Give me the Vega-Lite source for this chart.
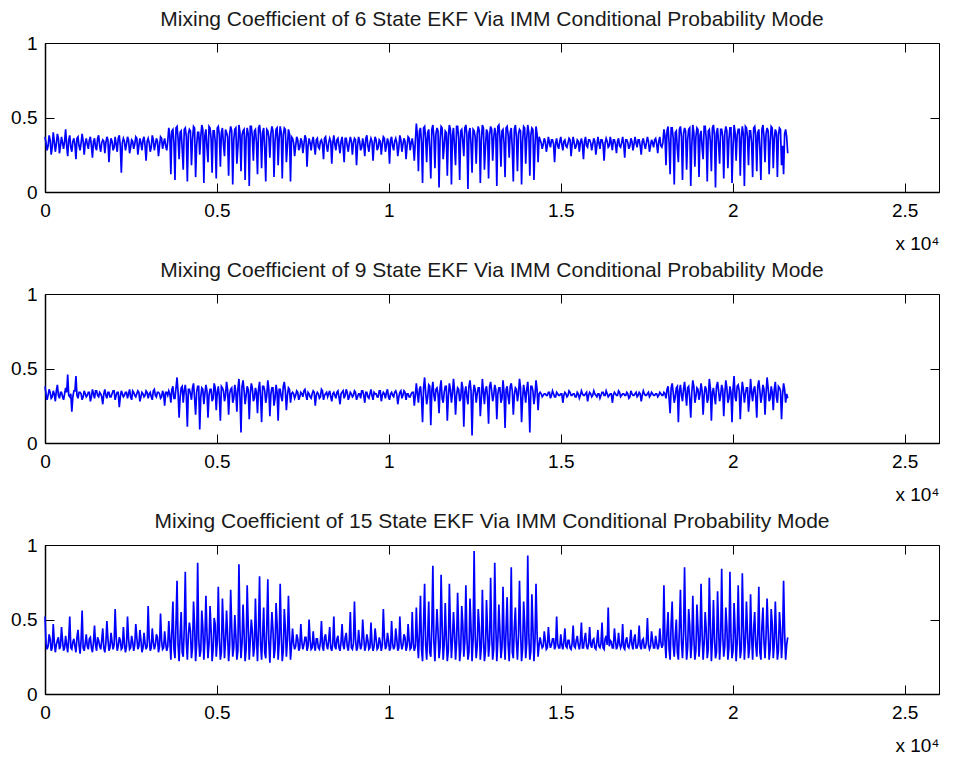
{
"$schema":"https://vega.github.io/schema/vega-lite/v6.json",
"background":"white",
"padding":{"left":10,"top":8,"right":4,"bottom":4},
"datasets":{"sig":[
{"x":0,"a":0.37,"b":0.38,"c":0.52},{"x":30,"a":0.33,"b":0.33,"c":0.34},{"x":60,"a":0.28,"b":0.29,"c":0.30},{"x":90,"a":0.31,"b":0.32,"c":0.32},{"x":120,"a":0.38,"b":0.36,"c":0.40},{"x":150,"a":0.35,"b":0.34,"c":0.37},{"x":180,"a":0.25,"b":0.30,"c":0.29},{"x":210,"a":0.30,"b":0.31,"c":0.31},{"x":240,"a":0.40,"b":0.35,"c":0.47},{"x":270,"a":0.34,"b":0.33,"c":0.35},
{"x":300,"a":0.27,"b":0.28,"c":0.28},{"x":330,"a":0.32,"b":0.35,"c":0.33},{"x":360,"a":0.39,"b":0.39,"c":0.36},{"x":390,"a":0.36,"b":0.32,"c":0.38},{"x":420,"a":0.26,"b":0.30,"c":0.30},{"x":450,"a":0.31,"b":0.34,"c":0.32},{"x":480,"a":0.37,"b":0.34,"c":0.45},{"x":510,"a":0.33,"b":0.31,"c":0.36},{"x":540,"a":0.29,"b":0.29,"c":0.29},{"x":570,"a":0.34,"b":0.33,"c":0.31},
{"x":600,"a":0.42,"b":0.37,"c":0.39},{"x":630,"a":0.31,"b":0.34,"c":0.33},{"x":660,"a":0.24,"b":0.46,"c":0.28},{"x":690,"a":0.35,"b":0.32,"c":0.37},{"x":720,"a":0.38,"b":0.31,"c":0.52},{"x":750,"a":0.30,"b":0.33,"c":0.31},{"x":780,"a":0.27,"b":0.21,"c":0.30},{"x":810,"a":0.34,"b":0.31,"c":0.35},{"x":840,"a":0.36,"b":0.35,"c":0.37},{"x":870,"a":0.32,"b":0.35,"c":0.32},
{"x":900,"a":0.22,"b":0.45,"c":0.28},{"x":930,"a":0.36,"b":0.32,"c":0.38},{"x":960,"a":0.37,"b":0.30,"c":0.43},{"x":990,"a":0.31,"b":0.34,"c":0.33},{"x":1020,"a":0.28,"b":0.34,"c":0.27},{"x":1050,"a":0.33,"b":0.33,"c":0.36},{"x":1080,"a":0.39,"b":0.29,"c":0.56},{"x":1110,"a":0.34,"b":0.31,"c":0.31},{"x":1140,"a":0.25,"b":0.35,"c":0.29},{"x":1170,"a":0.33,"b":0.33,"c":0.34},
{"x":1200,"a":0.36,"b":0.31,"c":0.40},{"x":1230,"a":0.32,"b":0.32,"c":0.32},{"x":1260,"a":0.29,"b":0.34,"c":0.30},{"x":1290,"a":0.35,"b":0.34,"c":0.37},{"x":1320,"a":0.37,"b":0.28,"c":0.38},{"x":1350,"a":0.31,"b":0.31,"c":0.31},{"x":1380,"a":0.23,"b":0.36,"c":0.28},{"x":1410,"a":0.34,"b":0.33,"c":0.35},{"x":1440,"a":0.36,"b":0.30,"c":0.46},{"x":1470,"a":0.30,"b":0.35,"c":0.33},
{"x":1500,"a":0.28,"b":0.35,"c":0.29},{"x":1530,"a":0.36,"b":0.32,"c":0.38},{"x":1560,"a":0.38,"b":0.31,"c":0.36},{"x":1590,"a":0.31,"b":0.34,"c":0.32},{"x":1620,"a":0.27,"b":0.33,"c":0.30},{"x":1650,"a":0.33,"b":0.31,"c":0.36},{"x":1680,"a":0.35,"b":0.26,"c":0.44},{"x":1710,"a":0.34,"b":0.33,"c":0.31},{"x":1740,"a":0.26,"b":0.36,"c":0.28},{"x":1770,"a":0.33,"b":0.32,"c":0.34},
{"x":1800,"a":0.37,"b":0.30,"c":0.49},{"x":1830,"a":0.35,"b":0.34,"c":0.37},{"x":1860,"a":0.20,"b":0.34,"c":0.29},{"x":1890,"a":0.31,"b":0.31,"c":0.31},{"x":1920,"a":0.36,"b":0.31,"c":0.41},{"x":1950,"a":0.34,"b":0.33,"c":0.35},{"x":1980,"a":0.28,"b":0.35,"c":0.30},{"x":2010,"a":0.30,"b":0.35,"c":0.33},{"x":2040,"a":0.37,"b":0.29,"c":0.57},{"x":2070,"a":0.32,"b":0.32,"c":0.38},
{"x":2100,"a":0.27,"b":0.34,"c":0.29},{"x":2130,"a":0.36,"b":0.34,"c":0.32},{"x":2160,"a":0.38,"b":0.24,"c":0.38},{"x":2190,"a":0.31,"b":0.31,"c":0.36},{"x":2220,"a":0.13,"b":0.35,"c":0.30},{"x":2250,"a":0.33,"b":0.33,"c":0.31},{"x":2280,"a":0.36,"b":0.31,"c":0.45},{"x":2310,"a":0.34,"b":0.32,"c":0.34},{"x":2340,"a":0.28,"b":0.34,"c":0.28},{"x":2370,"a":0.32,"b":0.34,"c":0.32},
{"x":2400,"a":0.37,"b":0.30,"c":0.52},{"x":2430,"a":0.35,"b":0.33,"c":0.37},{"x":2460,"a":0.26,"b":0.36,"c":0.30},{"x":2490,"a":0.30,"b":0.31,"c":0.31},{"x":2520,"a":0.35,"b":0.29,"c":0.39},{"x":2550,"a":0.34,"b":0.35,"c":0.35},{"x":2580,"a":0.29,"b":0.34,"c":0.29},{"x":2610,"a":0.32,"b":0.32,"c":0.33},{"x":2640,"a":0.37,"b":0.31,"c":0.47},{"x":2670,"a":0.36,"b":0.33,"c":0.38},
{"x":2700,"a":0.25,"b":0.35,"c":0.30},{"x":2730,"a":0.31,"b":0.34,"c":0.32},{"x":2760,"a":0.36,"b":0.28,"c":0.43},{"x":2790,"a":0.33,"b":0.31,"c":0.36},{"x":2820,"a":0.28,"b":0.34,"c":0.28},{"x":2850,"a":0.35,"b":0.33,"c":0.31},{"x":2880,"a":0.37,"b":0.31,"c":0.41},{"x":2910,"a":0.31,"b":0.32,"c":0.34},{"x":2940,"a":0.21,"b":0.35,"c":0.30},{"x":2970,"a":0.34,"b":0.34,"c":0.32},
{"x":3000,"a":0.36,"b":0.30,"c":0.59},{"x":3030,"a":0.33,"b":0.33,"c":0.37},{"x":3060,"a":0.27,"b":0.34,"c":0.29},{"x":3090,"a":0.30,"b":0.31,"c":0.31},{"x":3120,"a":0.38,"b":0.29,"c":0.44},{"x":3150,"a":0.35,"b":0.35,"c":0.35},{"x":3180,"a":0.28,"b":0.36,"c":0.30},{"x":3210,"a":0.32,"b":0.32,"c":0.33},{"x":3240,"a":0.36,"b":0.31,"c":0.40},{"x":3270,"a":0.34,"b":0.34,"c":0.38},
{"x":3300,"a":0.24,"b":0.34,"c":0.28},{"x":3330,"a":0.31,"b":0.33,"c":0.32},{"x":3360,"a":0.37,"b":0.30,"c":0.54},{"x":3390,"a":0.36,"b":0.31,"c":0.36},{"x":3420,"a":0.29,"b":0.35,"c":0.30},{"x":3450,"a":0.33,"b":0.33,"c":0.31},{"x":3480,"a":0.36,"b":0.25,"c":0.42},{"x":3510,"a":0.31,"b":0.34,"c":0.34},{"x":3540,"a":0.28,"b":0.34,"c":0.29},{"x":3570,"a":0.34,"b":0.32,"c":0.32},
{"x":3600,"a":0.43,"b":0.35,"c":0.49},{"x":3630,"a":0.38,"b":0.33,"c":0.36},{"x":3660,"a":0.12,"b":0.27,"c":0.23},{"x":3690,"a":0.41,"b":0.36,"c":0.42},{"x":3720,"a":0.42,"b":0.38,"c":0.62},{"x":3750,"a":0.33,"b":0.30,"c":0.30},{"x":3780,"a":0.08,"b":0.30,"c":0.24},{"x":3810,"a":0.43,"b":0.37,"c":0.47},{"x":3840,"a":0.44,"b":0.44,"c":0.76},{"x":3870,"a":0.36,"b":0.34,"c":0.33},
{"x":3900,"a":0.22,"b":0.17,"c":0.22},{"x":3930,"a":0.40,"b":0.31,"c":0.39},{"x":3960,"a":0.41,"b":0.37,"c":0.55},{"x":3990,"a":0.29,"b":0.38,"c":0.28},{"x":4020,"a":0.15,"b":0.27,"c":0.25},{"x":4050,"a":0.42,"b":0.35,"c":0.44},{"x":4080,"a":0.43,"b":0.39,"c":0.82},{"x":4110,"a":0.37,"b":0.32,"c":0.35},{"x":4140,"a":0.07,"b":0.11,"c":0.23},{"x":4170,"a":0.39,"b":0.36,"c":0.40},
{"x":4200,"a":0.42,"b":0.36,"c":0.48},{"x":4230,"a":0.41,"b":0.33,"c":0.42},{"x":4260,"a":0.18,"b":0.29,"c":0.24},{"x":4290,"a":0.35,"b":0.37,"c":0.31},{"x":4320,"a":0.44,"b":0.40,"c":0.62},{"x":4350,"a":0.43,"b":0.30,"c":0.46},{"x":4380,"a":0.10,"b":0.19,"c":0.22},{"x":4410,"a":0.31,"b":0.34,"c":0.33},{"x":4440,"a":0.40,"b":0.38,"c":0.88},{"x":4470,"a":0.40,"b":0.38,"c":0.38},
{"x":4500,"a":0.25,"b":0.09,"c":0.25},{"x":4530,"a":0.37,"b":0.31,"c":0.29},{"x":4560,"a":0.45,"b":0.37,"c":0.56},{"x":4590,"a":0.42,"b":0.36,"c":0.45},{"x":4620,"a":0.06,"b":0.26,"c":0.23},{"x":4650,"a":0.38,"b":0.33,"c":0.36},{"x":4680,"a":0.42,"b":0.39,"c":0.66},{"x":4710,"a":0.30,"b":0.35,"c":0.41},{"x":4740,"a":0.20,"b":0.17,"c":0.24},{"x":4770,"a":0.44,"b":0.32,"c":0.34},
{"x":4800,"a":0.43,"b":0.36,"c":0.59},{"x":4830,"a":0.36,"b":0.36,"c":0.43},{"x":4860,"a":0.13,"b":0.28,"c":0.22},{"x":4890,"a":0.41,"b":0.30,"c":0.30},{"x":4920,"a":0.41,"b":0.40,"c":0.51},{"x":4950,"a":0.34,"b":0.37,"c":0.47},{"x":4980,"a":0.09,"b":0.22,"c":0.25},{"x":5010,"a":0.43,"b":0.34,"c":0.35},{"x":5040,"a":0.44,"b":0.38,"c":0.72},{"x":5070,"a":0.38,"b":0.31,"c":0.38},
{"x":5100,"a":0.17,"b":0.15,"c":0.23},{"x":5130,"a":0.40,"b":0.38,"c":0.28},{"x":5160,"a":0.43,"b":0.37,"c":0.64},{"x":5190,"a":0.32,"b":0.35,"c":0.44},{"x":5220,"a":0.24,"b":0.28,"c":0.24},{"x":5250,"a":0.42,"b":0.32,"c":0.36},{"x":5280,"a":0.40,"b":0.41,"c":0.56},{"x":5310,"a":0.37,"b":0.36,"c":0.40},{"x":5340,"a":0.11,"b":0.19,"c":0.22},{"x":5370,"a":0.39,"b":0.33,"c":0.32},
{"x":5400,"a":0.44,"b":0.36,"c":0.70},{"x":5430,"a":0.41,"b":0.37,"c":0.45},{"x":5460,"a":0.05,"b":0.27,"c":0.25},{"x":5490,"a":0.35,"b":0.30,"c":0.31},{"x":5520,"a":0.42,"b":0.39,"c":0.53},{"x":5550,"a":0.43,"b":0.34,"c":0.39},{"x":5580,"a":0.19,"b":0.21,"c":0.23},{"x":5610,"a":0.30,"b":0.36,"c":0.29},{"x":5640,"a":0.45,"b":0.43,"c":0.87},{"x":5670,"a":0.40,"b":0.31,"c":0.43},
{"x":5700,"a":0.14,"b":0.07,"c":0.24},{"x":5730,"a":0.38,"b":0.38,"c":0.34},{"x":5760,"a":0.41,"b":0.42,"c":0.60},{"x":5790,"a":0.42,"b":0.35,"c":0.41},{"x":5820,"a":0.08,"b":0.26,"c":0.22},{"x":5850,"a":0.36,"b":0.32,"c":0.30},{"x":5880,"a":0.43,"b":0.38,"c":0.73},{"x":5910,"a":0.39,"b":0.36,"c":0.46},{"x":5940,"a":0.04,"b":0.16,"c":0.23},{"x":5970,"a":0.44,"b":0.33,"c":0.36},
{"x":6000,"a":0.44,"b":0.40,"c":0.50},{"x":6030,"a":0.37,"b":0.37,"c":0.42},{"x":6060,"a":0.21,"b":0.28,"c":0.25},{"x":6090,"a":0.41,"b":0.30,"c":0.31},{"x":6120,"a":0.42,"b":0.37,"c":0.64},{"x":6150,"a":0.33,"b":0.34,"c":0.38},{"x":6180,"a":0.12,"b":0.20,"c":0.22},{"x":6210,"a":0.43,"b":0.36,"c":0.44},{"x":6240,"a":0.45,"b":0.41,"c":0.79},{"x":6270,"a":0.38,"b":0.31,"c":0.33},
{"x":6300,"a":0.16,"b":0.14,"c":0.23},{"x":6330,"a":0.40,"b":0.38,"c":0.40},{"x":6360,"a":0.43,"b":0.38,"c":0.58},{"x":6390,"a":0.29,"b":0.35,"c":0.28},{"x":6420,"a":0.07,"b":0.27,"c":0.24},{"x":6450,"a":0.42,"b":0.32,"c":0.45},{"x":6480,"a":0.41,"b":0.42,"c":0.77},{"x":6510,"a":0.37,"b":0.36,"c":0.35},{"x":6540,"a":0.23,"b":0.18,"c":0.21},{"x":6570,"a":0.39,"b":0.33,"c":0.39},
{"x":6600,"a":0.44,"b":0.37,"c":0.55},{"x":6630,"a":0.41,"b":0.37,"c":0.43},{"x":6660,"a":0.10,"b":0.25,"c":0.24},{"x":6690,"a":0.34,"b":0.30,"c":0.30},{"x":6720,"a":0.42,"b":0.39,"c":0.61},{"x":6750,"a":0.43,"b":0.34,"c":0.47},{"x":6780,"a":0.18,"b":0.15,"c":0.23},{"x":6810,"a":0.36,"b":0.36,"c":0.34},{"x":6840,"a":0.44,"b":0.36,"c":0.74},{"x":6870,"a":0.40,"b":0.31,"c":0.40},
{"x":6900,"a":0.09,"b":0.28,"c":0.22},{"x":6930,"a":0.38,"b":0.38,"c":0.29},{"x":6960,"a":0.43,"b":0.41,"c":0.57},{"x":6990,"a":0.42,"b":0.35,"c":0.44},{"x":7020,"a":0.20,"b":0.22,"c":0.25},{"x":7050,"a":0.31,"b":0.32,"c":0.36},{"x":7080,"a":0.42,"b":0.37,"c":0.66},{"x":7110,"a":0.39,"b":0.36,"c":0.41},{"x":7140,"a":0.07,"b":0.27,"c":0.23},{"x":7170,"a":0.37,"b":0.33,"c":0.33},
{"x":7200,"a":0.36,"b":0.34,"c":0.44},{"x":7230,"a":0.33,"b":0.33,"c":0.34},{"x":7260,"a":0.24,"b":0.30,"c":0.30},{"x":7290,"a":0.31,"b":0.32,"c":0.32},{"x":7320,"a":0.37,"b":0.35,"c":0.40},{"x":7350,"a":0.35,"b":0.34,"c":0.37},{"x":7380,"a":0.28,"b":0.29,"c":0.29},{"x":7410,"a":0.30,"b":0.31,"c":0.31},{"x":7440,"a":0.36,"b":0.34,"c":0.47},{"x":7470,"a":0.34,"b":0.33,"c":0.35},
{"x":7500,"a":0.26,"b":0.31,"c":0.30},{"x":7530,"a":0.32,"b":0.35,"c":0.33},{"x":7560,"a":0.38,"b":0.36,"c":0.38},{"x":7590,"a":0.36,"b":0.32,"c":0.38},{"x":7620,"a":0.17,"b":0.29,"c":0.29},{"x":7650,"a":0.31,"b":0.34,"c":0.32},{"x":7680,"a":0.36,"b":0.33,"c":0.50},{"x":7710,"a":0.33,"b":0.31,"c":0.36},{"x":7740,"a":0.28,"b":0.30,"c":0.30},{"x":7770,"a":0.34,"b":0.33,"c":0.31},
{"x":7800,"a":0.37,"b":0.35,"c":0.42},{"x":7830,"a":0.31,"b":0.34,"c":0.33},{"x":7860,"a":0.25,"b":0.25,"c":0.29},{"x":7890,"a":0.35,"b":0.32,"c":0.37},{"x":7920,"a":0.36,"b":0.34,"c":0.37},{"x":7950,"a":0.30,"b":0.33,"c":0.31},{"x":7980,"a":0.29,"b":0.30,"c":0.30},{"x":8010,"a":0.34,"b":0.31,"c":0.35},{"x":8040,"a":0.35,"b":0.36,"c":0.49},{"x":8070,"a":0.32,"b":0.35,"c":0.32},
{"x":8100,"a":0.22,"b":0.29,"c":0.29},{"x":8130,"a":0.36,"b":0.32,"c":0.38},{"x":8160,"a":0.37,"b":0.33,"c":0.40},{"x":8190,"a":0.31,"b":0.34,"c":0.33},{"x":8220,"a":0.27,"b":0.31,"c":0.30},{"x":8250,"a":0.33,"b":0.33,"c":0.36},{"x":8280,"a":0.36,"b":0.35,"c":0.45},{"x":8310,"a":0.34,"b":0.31,"c":0.31},{"x":8340,"a":0.19,"b":0.28,"c":0.29},{"x":8370,"a":0.33,"b":0.33,"c":0.34},
{"x":8400,"a":0.38,"b":0.34,"c":0.52},{"x":8430,"a":0.32,"b":0.32,"c":0.32},{"x":8460,"a":0.28,"b":0.30,"c":0.30},{"x":8490,"a":0.35,"b":0.34,"c":0.37},{"x":8520,"a":0.36,"b":0.35,"c":0.39},{"x":8550,"a":0.31,"b":0.31,"c":0.31},{"x":8580,"a":0.26,"b":0.26,"c":0.29},{"x":8610,"a":0.34,"b":0.33,"c":0.35},{"x":8640,"a":0.37,"b":0.34,"c":0.47},{"x":8670,"a":0.30,"b":0.35,"c":0.33},
{"x":8700,"a":0.20,"b":0.30,"c":0.30},{"x":8730,"a":0.36,"b":0.32,"c":0.38},{"x":8760,"a":0.36,"b":0.36,"c":0.41},{"x":8790,"a":0.31,"b":0.34,"c":0.32},{"x":8820,"a":0.27,"b":0.29,"c":0.29},{"x":8850,"a":0.33,"b":0.31,"c":0.36},{"x":8880,"a":0.37,"b":0.34,"c":0.55},{"x":8910,"a":0.34,"b":0.33,"c":0.31},{"x":8940,"a":0.25,"b":0.31,"c":0.30},{"x":8970,"a":0.33,"b":0.32,"c":0.34},
{"x":9000,"a":0.36,"b":0.35,"c":0.62},{"x":9030,"a":0.35,"b":0.34,"c":0.37},{"x":9060,"a":0.18,"b":0.29,"c":0.29},{"x":9090,"a":0.31,"b":0.31,"c":0.31},{"x":9120,"a":0.37,"b":0.33,"c":0.43},{"x":9150,"a":0.34,"b":0.33,"c":0.35},{"x":9180,"a":0.28,"b":0.30,"c":0.30},{"x":9210,"a":0.30,"b":0.35,"c":0.33},{"x":9240,"a":0.36,"b":0.35,"c":0.50},{"x":9270,"a":0.32,"b":0.32,"c":0.38},
{"x":9300,"a":0.24,"b":0.27,"c":0.29},{"x":9330,"a":0.36,"b":0.34,"c":0.32},{"x":9360,"a":0.38,"b":0.34,"c":0.40},{"x":9390,"a":0.31,"b":0.31,"c":0.36},{"x":9420,"a":0.27,"b":0.30,"c":0.30},{"x":9450,"a":0.33,"b":0.33,"c":0.31},{"x":9480,"a":0.36,"b":0.36,"c":0.48},{"x":9510,"a":0.34,"b":0.32,"c":0.34},{"x":9540,"a":0.21,"b":0.29,"c":0.29},{"x":9570,"a":0.32,"b":0.34,"c":0.32},
{"x":9600,"a":0.37,"b":0.33,"c":0.44},{"x":9630,"a":0.35,"b":0.33,"c":0.37},{"x":9660,"a":0.28,"b":0.31,"c":0.30},{"x":9690,"a":0.30,"b":0.31,"c":0.31},{"x":9720,"a":0.35,"b":0.35,"c":0.38},{"x":9750,"a":0.34,"b":0.35,"c":0.35},{"x":9780,"a":0.25,"b":0.28,"c":0.29},{"x":9810,"a":0.32,"b":0.32,"c":0.33},{"x":9840,"a":0.37,"b":0.34,"c":0.57},{"x":9870,"a":0.36,"b":0.33,"c":0.38},
{"x":9900,"a":0.27,"b":0.30,"c":0.30},{"x":9930,"a":0.31,"b":0.34,"c":0.32},{"x":9960,"a":0.36,"b":0.36,"c":0.41},{"x":9990,"a":0.33,"b":0.31,"c":0.36},{"x":10020,"a":0.19,"b":0.29,"c":0.29},{"x":10050,"a":0.35,"b":0.33,"c":0.31},{"x":10080,"a":0.37,"b":0.34,"c":0.49},{"x":10110,"a":0.31,"b":0.32,"c":0.34},{"x":10140,"a":0.28,"b":0.31,"c":0.30},{"x":10170,"a":0.34,"b":0.34,"c":0.32},
{"x":10200,"a":0.36,"b":0.35,"c":0.44},{"x":10230,"a":0.33,"b":0.33,"c":0.37},{"x":10260,"a":0.24,"b":0.26,"c":0.29},{"x":10290,"a":0.30,"b":0.31,"c":0.31},{"x":10320,"a":0.38,"b":0.34,"c":0.52},{"x":10350,"a":0.35,"b":0.35,"c":0.35},{"x":10380,"a":0.27,"b":0.30,"c":0.30},{"x":10410,"a":0.32,"b":0.32,"c":0.33},{"x":10440,"a":0.36,"b":0.35,"c":0.40},{"x":10470,"a":0.34,"b":0.34,"c":0.38},
{"x":10500,"a":0.22,"b":0.29,"c":0.29},{"x":10530,"a":0.31,"b":0.33,"c":0.32},{"x":10560,"a":0.37,"b":0.33,"c":0.47},{"x":10590,"a":0.36,"b":0.31,"c":0.36},{"x":10620,"a":0.28,"b":0.31,"c":0.30},{"x":10650,"a":0.33,"b":0.33,"c":0.31},{"x":10680,"a":0.36,"b":0.34,"c":0.55},{"x":10710,"a":0.31,"b":0.34,"c":0.34},{"x":10740,"a":0.21,"b":0.25,"c":0.29},{"x":10770,"a":0.34,"b":0.32,"c":0.32},
{"x":10800,"a":0.46,"b":0.40,"c":0.58},{"x":10830,"a":0.38,"b":0.33,"c":0.36},{"x":10860,"a":0.14,"b":0.27,"c":0.24},{"x":10890,"a":0.41,"b":0.36,"c":0.42},{"x":10920,"a":0.43,"b":0.38,"c":0.66},{"x":10950,"a":0.33,"b":0.30,"c":0.30},{"x":10980,"a":0.06,"b":0.14,"c":0.22},{"x":11010,"a":0.43,"b":0.37,"c":0.47},{"x":11040,"a":0.44,"b":0.44,"c":0.74},{"x":11070,"a":0.36,"b":0.34,"c":0.33},
{"x":11100,"a":0.20,"b":0.26,"c":0.23},{"x":11130,"a":0.40,"b":0.31,"c":0.39},{"x":11160,"a":0.42,"b":0.39,"c":0.62},{"x":11190,"a":0.29,"b":0.38,"c":0.28},{"x":11220,"a":0.09,"b":0.12,"c":0.25},{"x":11250,"a":0.42,"b":0.35,"c":0.44},{"x":11280,"a":0.45,"b":0.41,"c":0.86},{"x":11310,"a":0.37,"b":0.32,"c":0.35},{"x":11340,"a":0.16,"b":0.28,"c":0.22},{"x":11370,"a":0.39,"b":0.36,"c":0.40},
{"x":11400,"a":0.43,"b":0.37,"c":0.57},{"x":11430,"a":0.41,"b":0.33,"c":0.42},{"x":11460,"a":0.03,"b":0.20,"c":0.24},{"x":11490,"a":0.35,"b":0.37,"c":0.31},{"x":11520,"a":0.44,"b":0.42,"c":0.80},{"x":11550,"a":0.43,"b":0.30,"c":0.46},{"x":11580,"a":0.22,"b":0.27,"c":0.23},{"x":11610,"a":0.31,"b":0.34,"c":0.33},{"x":11640,"a":0.41,"b":0.38,"c":0.61},{"x":11670,"a":0.40,"b":0.38,"c":0.38},
{"x":11700,"a":0.11,"b":0.15,"c":0.22},{"x":11730,"a":0.37,"b":0.31,"c":0.29},{"x":11760,"a":0.45,"b":0.40,"c":0.74},{"x":11790,"a":0.42,"b":0.36,"c":0.45},{"x":11820,"a":0.05,"b":0.27,"c":0.24},{"x":11850,"a":0.38,"b":0.33,"c":0.36},{"x":11880,"a":0.43,"b":0.43,"c":0.55},{"x":11910,"a":0.30,"b":0.35,"c":0.41},{"x":11940,"a":0.18,"b":0.19,"c":0.23},{"x":11970,"a":0.44,"b":0.32,"c":0.34},
{"x":12000,"a":0.44,"b":0.37,"c":0.68},{"x":12030,"a":0.36,"b":0.36,"c":0.43},{"x":12060,"a":0.08,"b":0.28,"c":0.22},{"x":12090,"a":0.41,"b":0.30,"c":0.30},{"x":12120,"a":0.42,"b":0.41,"c":0.59},{"x":12150,"a":0.34,"b":0.37,"c":0.47},{"x":12180,"a":0.24,"b":0.11,"c":0.25},{"x":12210,"a":0.43,"b":0.34,"c":0.35},{"x":12240,"a":0.45,"b":0.38,"c":0.73},{"x":12270,"a":0.38,"b":0.31,"c":0.38},
{"x":12300,"a":0.02,"b":0.26,"c":0.23},{"x":12330,"a":0.40,"b":0.38,"c":0.28},{"x":12360,"a":0.43,"b":0.42,"c":0.64},{"x":12390,"a":0.32,"b":0.35,"c":0.44},{"x":12420,"a":0.13,"b":0.05,"c":0.22},{"x":12450,"a":0.42,"b":0.32,"c":0.36},{"x":12480,"a":0.41,"b":0.39,"c":0.96},{"x":12510,"a":0.37,"b":0.36,"c":0.40},{"x":12540,"a":0.19,"b":0.27,"c":0.24},{"x":12570,"a":0.39,"b":0.33,"c":0.32},
{"x":12600,"a":0.44,"b":0.37,"c":0.57},{"x":12630,"a":0.41,"b":0.37,"c":0.45},{"x":12660,"a":0.06,"b":0.18,"c":0.23},{"x":12690,"a":0.35,"b":0.30,"c":0.31},{"x":12720,"a":0.45,"b":0.43,"c":0.70},{"x":12750,"a":0.43,"b":0.34,"c":0.39},{"x":12780,"a":0.15,"b":0.26,"c":0.22},{"x":12810,"a":0.30,"b":0.36,"c":0.29},{"x":12840,"a":0.42,"b":0.38,"c":0.63},{"x":12870,"a":0.40,"b":0.31,"c":0.43},
{"x":12900,"a":0.09,"b":0.13,"c":0.25},{"x":12930,"a":0.38,"b":0.38,"c":0.34},{"x":12960,"a":0.44,"b":0.41,"c":0.78},{"x":12990,"a":0.42,"b":0.35,"c":0.41},{"x":13020,"a":0.21,"b":0.28,"c":0.23},{"x":13050,"a":0.36,"b":0.32,"c":0.30},{"x":13080,"a":0.43,"b":0.39,"c":0.88},{"x":13110,"a":0.39,"b":0.36,"c":0.46},{"x":13140,"a":0.04,"b":0.16,"c":0.22},{"x":13170,"a":0.44,"b":0.33,"c":0.36},
{"x":13200,"a":0.45,"b":0.37,"c":0.60},{"x":13230,"a":0.37,"b":0.37,"c":0.42},{"x":13260,"a":0.17,"b":0.27,"c":0.24},{"x":13290,"a":0.41,"b":0.30,"c":0.31},{"x":13320,"a":0.42,"b":0.42,"c":0.72},{"x":13350,"a":0.33,"b":0.34,"c":0.38},{"x":13380,"a":0.10,"b":0.10,"c":0.23},{"x":13410,"a":0.43,"b":0.36,"c":0.44},{"x":13440,"a":0.44,"b":0.38,"c":0.65},{"x":13470,"a":0.38,"b":0.31,"c":0.33},
{"x":13500,"a":0.23,"b":0.26,"c":0.22},{"x":13530,"a":0.40,"b":0.38,"c":0.40},{"x":13560,"a":0.43,"b":0.40,"c":0.85},{"x":13590,"a":0.29,"b":0.35,"c":0.28},{"x":13620,"a":0.07,"b":0.19,"c":0.24},{"x":13650,"a":0.42,"b":0.32,"c":0.45},{"x":13680,"a":0.45,"b":0.37,"c":0.58},{"x":13710,"a":0.37,"b":0.36,"c":0.35},{"x":13740,"a":0.14,"b":0.28,"c":0.23},{"x":13770,"a":0.39,"b":0.33,"c":0.39},
{"x":13800,"a":0.42,"b":0.43,"c":0.76},{"x":13830,"a":0.41,"b":0.37,"c":0.43},{"x":13860,"a":0.05,"b":0.14,"c":0.22},{"x":13890,"a":0.34,"b":0.30,"c":0.30},{"x":13920,"a":0.44,"b":0.39,"c":0.62},{"x":13950,"a":0.43,"b":0.34,"c":0.47},{"x":13980,"a":0.19,"b":0.27,"c":0.24},{"x":14010,"a":0.36,"b":0.36,"c":0.34},{"x":14040,"a":0.45,"b":0.41,"c":0.93},{"x":14070,"a":0.40,"b":0.31,"c":0.40},
{"x":14100,"a":0.11,"b":0.07,"c":0.23},{"x":14130,"a":0.38,"b":0.38,"c":0.29},{"x":14160,"a":0.43,"b":0.38,"c":0.67},{"x":14190,"a":0.42,"b":0.35,"c":0.44},{"x":14220,"a":0.08,"b":0.26,"c":0.22},{"x":14250,"a":0.31,"b":0.32,"c":0.36},{"x":14280,"a":0.44,"b":0.42,"c":0.74},{"x":14310,"a":0.39,"b":0.36,"c":0.41},{"x":14340,"a":0.20,"b":0.22,"c":0.25},{"x":14370,"a":0.37,"b":0.33,"c":0.33},
{"x":14400,"a":0.35,"b":0.34,"c":0.38},{"x":14430,"a":0.33,"b":0.33,"c":0.34},{"x":14460,"a":0.29,"b":0.31,"c":0.31},{"x":14490,"a":0.32,"b":0.32,"c":0.32},{"x":14520,"a":0.36,"b":0.33,"c":0.42},{"x":14550,"a":0.34,"b":0.33,"c":0.36},{"x":14580,"a":0.27,"b":0.32,"c":0.30},{"x":14610,"a":0.31,"b":0.32,"c":0.31},{"x":14640,"a":0.37,"b":0.34,"c":0.45},{"x":14670,"a":0.33,"b":0.34,"c":0.35},
{"x":14700,"a":0.30,"b":0.30,"c":0.31},{"x":14730,"a":0.35,"b":0.32,"c":0.33},{"x":14760,"a":0.35,"b":0.35,"c":0.37},{"x":14790,"a":0.32,"b":0.33,"c":0.37},{"x":14820,"a":0.20,"b":0.31,"c":0.30},{"x":14850,"a":0.33,"b":0.31,"c":0.32},{"x":14880,"a":0.36,"b":0.34,"c":0.52},{"x":14910,"a":0.31,"b":0.33,"c":0.34},{"x":14940,"a":0.29,"b":0.32,"c":0.31},{"x":14970,"a":0.34,"b":0.32,"c":0.31},
{"x":15000,"a":0.37,"b":0.33,"c":0.40},{"x":15030,"a":0.32,"b":0.33,"c":0.33},{"x":15060,"a":0.28,"b":0.27,"c":0.30},{"x":15090,"a":0.34,"b":0.32,"c":0.35},{"x":15120,"a":0.35,"b":0.34,"c":0.44},{"x":15150,"a":0.31,"b":0.33,"c":0.32},{"x":15180,"a":0.30,"b":0.31,"c":0.31},{"x":15210,"a":0.33,"b":0.32,"c":0.36},{"x":15240,"a":0.36,"b":0.35,"c":0.36},{"x":15270,"a":0.35,"b":0.34,"c":0.31},
{"x":15300,"a":0.24,"b":0.32,"c":0.30},{"x":15330,"a":0.32,"b":0.32,"c":0.34},{"x":15360,"a":0.37,"b":0.33,"c":0.46},{"x":15390,"a":0.33,"b":0.33,"c":0.32},{"x":15420,"a":0.29,"b":0.31,"c":0.31},{"x":15450,"a":0.31,"b":0.31,"c":0.36},{"x":15480,"a":0.35,"b":0.34,"c":0.39},{"x":15510,"a":0.34,"b":0.33,"c":0.33},{"x":15540,"a":0.27,"b":0.30,"c":0.30},{"x":15570,"a":0.33,"b":0.32,"c":0.35},
{"x":15600,"a":0.36,"b":0.35,"c":0.48},{"x":15630,"a":0.32,"b":0.33,"c":0.31},{"x":15660,"a":0.22,"b":0.32,"c":0.31},{"x":15690,"a":0.34,"b":0.32,"c":0.37},{"x":15720,"a":0.37,"b":0.33,"c":0.41},{"x":15750,"a":0.31,"b":0.34,"c":0.32},{"x":15780,"a":0.30,"b":0.28,"c":0.30},{"x":15810,"a":0.35,"b":0.32,"c":0.34},{"x":15840,"a":0.35,"b":0.34,"c":0.45},{"x":15870,"a":0.33,"b":0.33,"c":0.33},
{"x":15900,"a":0.28,"b":0.31,"c":0.31},{"x":15930,"a":0.32,"b":0.32,"c":0.36},{"x":15960,"a":0.36,"b":0.35,"c":0.37},{"x":15990,"a":0.34,"b":0.33,"c":0.31},{"x":16020,"a":0.25,"b":0.32,"c":0.30},{"x":16050,"a":0.31,"b":0.31,"c":0.35},{"x":16080,"a":0.37,"b":0.33,"c":0.43},{"x":16110,"a":0.33,"b":0.33,"c":0.32},{"x":16140,"a":0.29,"b":0.30,"c":0.31},{"x":16170,"a":0.35,"b":0.32,"c":0.34},
{"x":16200,"a":0.35,"b":0.34,"c":0.48},{"x":16230,"a":0.32,"b":0.34,"c":0.31},{"x":16260,"a":0.21,"b":0.32,"c":0.30},{"x":16290,"a":0.33,"b":0.32,"c":0.37},{"x":16320,"a":0.36,"b":0.35,"c":0.39},{"x":16350,"a":0.34,"b":0.33,"c":0.33},{"x":16380,"a":0.30,"b":0.31,"c":0.58},{"x":16410,"a":0.31,"b":0.32,"c":0.32},{"x":16440,"a":0.37,"b":0.33,"c":0.36},{"x":16470,"a":0.33,"b":0.33,"c":0.35},
{"x":16500,"a":0.28,"b":0.27,"c":0.31},{"x":16530,"a":0.35,"b":0.32,"c":0.31},{"x":16560,"a":0.35,"b":0.34,"c":0.44},{"x":16590,"a":0.32,"b":0.33,"c":0.36},{"x":16620,"a":0.26,"b":0.32,"c":0.30},{"x":16650,"a":0.34,"b":0.32,"c":0.32},{"x":16680,"a":0.36,"b":0.35,"c":0.41},{"x":16710,"a":0.31,"b":0.34,"c":0.34},{"x":16740,"a":0.30,"b":0.31,"c":0.31},{"x":16770,"a":0.33,"b":0.32,"c":0.33},
{"x":16800,"a":0.37,"b":0.33,"c":0.47},{"x":16830,"a":0.32,"b":0.33,"c":0.31},{"x":16860,"a":0.23,"b":0.32,"c":0.30},{"x":16890,"a":0.35,"b":0.32,"c":0.36},{"x":16920,"a":0.35,"b":0.34,"c":0.38},{"x":16950,"a":0.33,"b":0.33,"c":0.32},{"x":16980,"a":0.29,"b":0.30,"c":0.31},{"x":17010,"a":0.31,"b":0.31,"c":0.35},{"x":17040,"a":0.36,"b":0.35,"c":0.43},{"x":17070,"a":0.34,"b":0.33,"c":0.33},
{"x":17100,"a":0.28,"b":0.32,"c":0.30},{"x":17130,"a":0.32,"b":0.32,"c":0.37},{"x":17160,"a":0.37,"b":0.33,"c":0.40},{"x":17190,"a":0.33,"b":0.34,"c":0.31},{"x":17220,"a":0.30,"b":0.31,"c":0.31},{"x":17250,"a":0.35,"b":0.32,"c":0.34},{"x":17280,"a":0.35,"b":0.34,"c":0.46},{"x":17310,"a":0.31,"b":0.33,"c":0.32},{"x":17340,"a":0.25,"b":0.28,"c":0.30},{"x":17370,"a":0.34,"b":0.32,"c":0.36},
{"x":17400,"a":0.36,"b":0.35,"c":0.37},{"x":17430,"a":0.32,"b":0.33,"c":0.31},{"x":17460,"a":0.29,"b":0.32,"c":0.31},{"x":17490,"a":0.33,"b":0.32,"c":0.35},{"x":17520,"a":0.37,"b":0.33,"c":0.51},{"x":17550,"a":0.34,"b":0.34,"c":0.33},{"x":17580,"a":0.27,"b":0.31,"c":0.30},{"x":17610,"a":0.31,"b":0.32,"c":0.32},{"x":17640,"a":0.35,"b":0.34,"c":0.42},{"x":17670,"a":0.33,"b":0.33,"c":0.36},
{"x":17700,"a":0.30,"b":0.32,"c":0.31},{"x":17730,"a":0.35,"b":0.32,"c":0.31},{"x":17760,"a":0.36,"b":0.33,"c":0.39},{"x":17790,"a":0.32,"b":0.33,"c":0.34},{"x":17820,"a":0.26,"b":0.31,"c":0.30},{"x":17850,"a":0.34,"b":0.32,"c":0.32},{"x":17880,"a":0.37,"b":0.34,"c":0.44},{"x":17910,"a":0.31,"b":0.33,"c":0.35},{"x":17940,"a":0.30,"b":0.32,"c":0.31},{"x":17970,"a":0.33,"b":0.32,"c":0.33},
{"x":18000,"a":0.42,"b":0.34,"c":0.73},{"x":18030,"a":0.38,"b":0.33,"c":0.36},{"x":18060,"a":0.18,"b":0.30,"c":0.24},{"x":18090,"a":0.41,"b":0.36,"c":0.42},{"x":18120,"a":0.44,"b":0.38,"c":0.55},{"x":18150,"a":0.33,"b":0.30,"c":0.30},{"x":18180,"a":0.12,"b":0.20,"c":0.23},{"x":18210,"a":0.43,"b":0.37,"c":0.47},{"x":18240,"a":0.43,"b":0.40,"c":0.62},{"x":18270,"a":0.36,"b":0.34,"c":0.33},
{"x":18300,"a":0.05,"b":0.27,"c":0.25},{"x":18330,"a":0.40,"b":0.31,"c":0.39},{"x":18360,"a":0.41,"b":0.37,"c":0.50},{"x":18390,"a":0.29,"b":0.38,"c":0.28},{"x":18420,"a":0.20,"b":0.14,"c":0.23},{"x":18450,"a":0.42,"b":0.35,"c":0.44},{"x":18480,"a":0.44,"b":0.39,"c":0.70},{"x":18510,"a":0.37,"b":0.32,"c":0.35},{"x":18540,"a":0.08,"b":0.28,"c":0.24},{"x":18570,"a":0.39,"b":0.36,"c":0.40},
{"x":18600,"a":0.43,"b":0.41,"c":0.85},{"x":18630,"a":0.41,"b":0.33,"c":0.42},{"x":18660,"a":0.15,"b":0.25,"c":0.23},{"x":18690,"a":0.35,"b":0.37,"c":0.31},{"x":18720,"a":0.42,"b":0.38,"c":0.57},{"x":18750,"a":0.43,"b":0.30,"c":0.46},{"x":18780,"a":0.04,"b":0.17,"c":0.24},{"x":18810,"a":0.31,"b":0.34,"c":0.33},{"x":18840,"a":0.45,"b":0.42,"c":0.66},{"x":18870,"a":0.40,"b":0.38,"c":0.38},
{"x":18900,"a":0.17,"b":0.27,"c":0.23},{"x":18930,"a":0.37,"b":0.31,"c":0.29},{"x":18960,"a":0.43,"b":0.37,"c":0.60},{"x":18990,"a":0.42,"b":0.36,"c":0.45},{"x":19020,"a":0.10,"b":0.29,"c":0.25},{"x":19050,"a":0.38,"b":0.33,"c":0.36},{"x":19080,"a":0.41,"b":0.40,"c":0.74},{"x":19110,"a":0.30,"b":0.35,"c":0.41},{"x":19140,"a":0.22,"b":0.19,"c":0.23},{"x":19170,"a":0.44,"b":0.32,"c":0.34},
{"x":19200,"a":0.44,"b":0.38,"c":0.55},{"x":19230,"a":0.36,"b":0.36,"c":0.43},{"x":19260,"a":0.07,"b":0.27,"c":0.24},{"x":19290,"a":0.41,"b":0.30,"c":0.30},{"x":19320,"a":0.42,"b":0.43,"c":0.78},{"x":19350,"a":0.34,"b":0.37,"c":0.47},{"x":19380,"a":0.14,"b":0.15,"c":0.22},{"x":19410,"a":0.43,"b":0.34,"c":0.35},{"x":19440,"a":0.45,"b":0.37,"c":0.63},{"x":19470,"a":0.38,"b":0.31,"c":0.38},
{"x":19500,"a":0.03,"b":0.26,"c":0.24},{"x":19530,"a":0.40,"b":0.38,"c":0.28},{"x":19560,"a":0.43,"b":0.41,"c":0.69},{"x":19590,"a":0.32,"b":0.35,"c":0.44},{"x":19620,"a":0.19,"b":0.28,"c":0.23},{"x":19650,"a":0.42,"b":0.32,"c":0.36},{"x":19680,"a":0.42,"b":0.39,"c":0.84},{"x":19710,"a":0.37,"b":0.36,"c":0.40},{"x":19740,"a":0.09,"b":0.18,"c":0.25},{"x":19770,"a":0.39,"b":0.33,"c":0.32},
{"x":19800,"a":0.44,"b":0.42,"c":0.58},{"x":19830,"a":0.41,"b":0.37,"c":0.45},{"x":19860,"a":0.16,"b":0.27,"c":0.23},{"x":19890,"a":0.35,"b":0.30,"c":0.31},{"x":19920,"a":0.43,"b":0.38,"c":0.82},{"x":19950,"a":0.43,"b":0.34,"c":0.39},{"x":19980,"a":0.06,"b":0.14,"c":0.24},{"x":20010,"a":0.30,"b":0.36,"c":0.29},{"x":20040,"a":0.45,"b":0.45,"c":0.61},{"x":20070,"a":0.40,"b":0.31,"c":0.43},
{"x":20100,"a":0.21,"b":0.28,"c":0.22},{"x":20130,"a":0.38,"b":0.38,"c":0.34},{"x":20160,"a":0.42,"b":0.39,"c":0.73},{"x":20190,"a":0.42,"b":0.35,"c":0.41},{"x":20220,"a":0.11,"b":0.16,"c":0.24},{"x":20250,"a":0.36,"b":0.32,"c":0.30},{"x":20280,"a":0.44,"b":0.41,"c":0.81},{"x":20310,"a":0.39,"b":0.36,"c":0.46},{"x":20340,"a":0.04,"b":0.27,"c":0.23},{"x":20370,"a":0.44,"b":0.33,"c":0.36},
{"x":20400,"a":0.43,"b":0.37,"c":0.62},{"x":20430,"a":0.37,"b":0.37,"c":0.42},{"x":20460,"a":0.18,"b":0.21,"c":0.24},{"x":20490,"a":0.41,"b":0.30,"c":0.31},{"x":20520,"a":0.41,"b":0.43,"c":0.67},{"x":20550,"a":0.33,"b":0.34,"c":0.38},{"x":20580,"a":0.10,"b":0.28,"c":0.23},{"x":20610,"a":0.43,"b":0.36,"c":0.44},{"x":20640,"a":0.44,"b":0.38,"c":0.55},{"x":20670,"a":0.38,"b":0.31,"c":0.33},
{"x":20700,"a":0.14,"b":0.17,"c":0.25},{"x":20730,"a":0.40,"b":0.38,"c":0.40},{"x":20760,"a":0.42,"b":0.42,"c":0.72},{"x":20790,"a":0.29,"b":0.35,"c":0.28},{"x":20820,"a":0.08,"b":0.27,"c":0.23},{"x":20850,"a":0.42,"b":0.32,"c":0.45},{"x":20880,"a":0.45,"b":0.39,"c":0.58},{"x":20910,"a":0.37,"b":0.36,"c":0.35},{"x":20940,"a":0.20,"b":0.19,"c":0.24},{"x":20970,"a":0.39,"b":0.33,"c":0.39},
{"x":21000,"a":0.43,"b":0.44,"c":0.64},{"x":21030,"a":0.41,"b":0.37,"c":0.43},{"x":21060,"a":0.12,"b":0.28,"c":0.23},{"x":21090,"a":0.34,"b":0.30,"c":0.30},{"x":21120,"a":0.44,"b":0.38,"c":0.57},{"x":21150,"a":0.43,"b":0.34,"c":0.47},{"x":21180,"a":0.16,"b":0.22,"c":0.24},{"x":21210,"a":0.36,"b":0.36,"c":0.34},{"x":21240,"a":0.42,"b":0.41,"c":0.62},{"x":21270,"a":0.40,"b":0.31,"c":0.40},
{"x":21300,"a":0.10,"b":0.27,"c":0.23},{"x":21330,"a":0.38,"b":0.38,"c":0.29},{"x":21360,"a":0.43,"b":0.37,"c":0.55},{"x":21390,"a":0.42,"b":0.35,"c":0.44},{"x":21420,"a":0.18,"b":0.16,"c":0.24},{"x":21450,"a":0.31,"b":0.32,"c":0.36},{"x":21480,"a":0.12,"b":0.40,"c":0.76},{"x":21510,"a":0.39,"b":0.36,"c":0.41},{"x":21540,"a":0.42,"b":0.27,"c":0.23},{"x":21570,"a":0.37,"b":0.33,"c":0.33},
{"x":21600,"a":0.26,"b":0.30,"c":0.38}
]},
"vconcat":[
{"title":"Mixing Coefficient of 6 State EKF Via IMM Conditional Probability Mode",
 "width":894,"height":149,"data":{"name":"sig"},
 "layer":[
  {"mark":{"type":"line","color":"#0000ff","strokeWidth":1.7},
   "encoding":{"x":{"field":"x","type":"quantitative","scale":{"domain":[0,25000]},"axis":{"orient":"bottom","values":[0,5000,10000,15000,20000,25000],"labelExpr":"datum.value/10000","title":"x 10⁴","domain":true}},
   "y":{"field":"a","type":"quantitative","scale":{"domain":[0,1]},"axis":{"orient":"left","values":[0,0.5,1],"labelExpr":"datum.value","title":null,"domain":true}}}},
  {"mark":{"type":"line","strokeOpacity":0},
   "encoding":{"x":{"field":"x","type":"quantitative","axis":{"orient":"top","values":[0,5000,10000,15000,20000,25000],"labels":false,"title":null}},
   "y":{"field":"a","type":"quantitative","axis":{"orient":"right","values":[0,0.5,1],"labels":false,"title":null}}}}
 ],
 "resolve":{"axis":{"x":"independent","y":"independent"}}},
{"title":"Mixing Coefficient of 9 State EKF Via IMM Conditional Probability Mode",
 "width":894,"height":149,"data":{"name":"sig"},
 "layer":[
  {"mark":{"type":"line","color":"#0000ff","strokeWidth":1.7},
   "encoding":{"x":{"field":"x","type":"quantitative","scale":{"domain":[0,25000]},"axis":{"orient":"bottom","values":[0,5000,10000,15000,20000,25000],"labelExpr":"datum.value/10000","title":"x 10⁴","domain":true}},
   "y":{"field":"b","type":"quantitative","scale":{"domain":[0,1]},"axis":{"orient":"left","values":[0,0.5,1],"labelExpr":"datum.value","title":null,"domain":true}}}},
  {"mark":{"type":"line","strokeOpacity":0},
   "encoding":{"x":{"field":"x","type":"quantitative","axis":{"orient":"top","values":[0,5000,10000,15000,20000,25000],"labels":false,"title":null}},
   "y":{"field":"b","type":"quantitative","axis":{"orient":"right","values":[0,0.5,1],"labels":false,"title":null}}}}
 ],
 "resolve":{"axis":{"x":"independent","y":"independent"}}},
{"title":"Mixing Coefficient of 15 State EKF Via IMM Conditional Probability Mode",
 "width":894,"height":149,"data":{"name":"sig"},
 "layer":[
  {"mark":{"type":"line","color":"#0000ff","strokeWidth":1.7},
   "encoding":{"x":{"field":"x","type":"quantitative","scale":{"domain":[0,25000]},"axis":{"orient":"bottom","values":[0,5000,10000,15000,20000,25000],"labelExpr":"datum.value/10000","title":"x 10⁴","domain":true}},
   "y":{"field":"c","type":"quantitative","scale":{"domain":[0,1]},"axis":{"orient":"left","values":[0,0.5,1],"labelExpr":"datum.value","title":null,"domain":true}}}},
  {"mark":{"type":"line","strokeOpacity":0},
   "encoding":{"x":{"field":"x","type":"quantitative","axis":{"orient":"top","values":[0,5000,10000,15000,20000,25000],"labels":false,"title":null}},
   "y":{"field":"c","type":"quantitative","axis":{"orient":"right","values":[0,0.5,1],"labels":false,"title":null}}}}
 ],
 "resolve":{"axis":{"x":"independent","y":"independent"}}}
],
"spacing":102,
"bounds":"flush",
"config":{
 "font":"Liberation Sans",
 "view":{"stroke":"black","strokeWidth":1},
 "axis":{"grid":false,"domain":false,"domainColor":"black","domainWidth":1.5,"tickColor":"black","tickSize":-9,"tickWidth":1,"labelPadding":17,"labelFont":"Liberation Sans","labelFontSize":19,"labelColor":"black","labelFlush":false,"labelOverlap":false,
  "titleFont":"Liberation Sans","titleFontSize":19,"titleFontWeight":"normal","titleColor":"black"},
 "axisBottom":{"labelPadding":18,"titleAnchor":"end","titleAlign":"right","titleX":894,"titleY":57,"titleBaseline":"alphabetic"},
 "title":{"font":"Liberation Sans","fontSize":21,"fontWeight":"normal","color":"#1a1a1a","offset":4}
}
}
